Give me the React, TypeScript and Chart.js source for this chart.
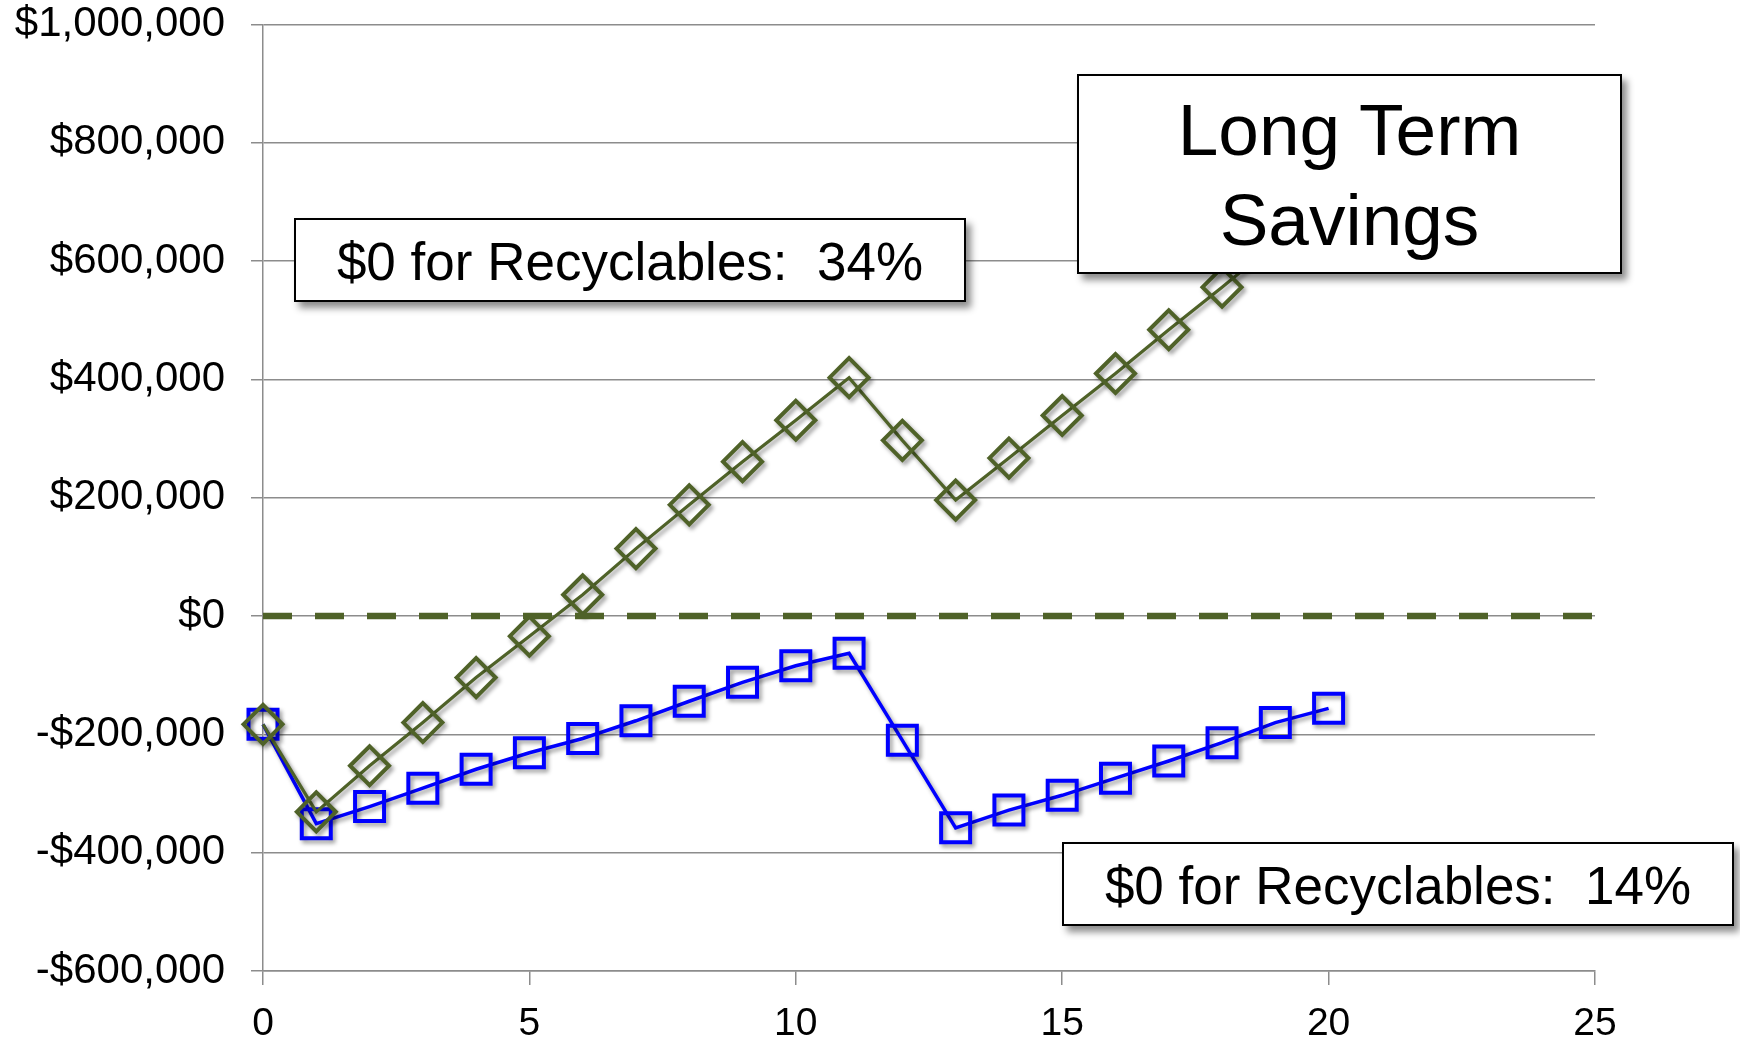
import React, { useEffect, useRef } from 'react';
import { Chart, registerables } from 'chart.js';

Chart.register(...registerables);

// ---- data ----
const years = [0, 1, 2, 3, 4, 5, 6, 7, 8, 9, 10, 11, 12, 13, 14, 15, 16, 17, 18, 19, 20];
const savings34 = [
  -183000, -331000, -253000, -180000, -104000, -34000, 36000, 114000, 188000, 261000,
  331000, 403000, 297000, 196000, 267000, 339000, 410000, 484000, 556000, 630000, 705000,
];
const savings14 = [
  -183000, -351000, -322000, -291000, -259000, -231000, -207000, -177000, -144000, -112000,
  -84000, -63000, -210000, -358000, -328000, -303000, -274000, -245000, -214000, -180000, -156000,
];
const breakEvenX = [0, 25.2];
const breakEvenY = [0, 0];
const xMin = 0;
const xMax = 25;
const xStep = 5;
const yMin = -600000;
const yMax = 1000000;
const yStep = 200000;
const label34 = '$0 for Recyclables:  34%';
const label14 = '$0 for Recyclables:  14%';
const titleLines = ['Long Term', 'Savings'];

const FONT = '"Liberation Sans", Arial, Helvetica, sans-serif';
const OLIVE = '#4F6228';
const BLUE = '#0000FF';
const GRID = '#8c8c8c';

const shadowPlugin = {
  id: 'seriesShadow',
  beforeDatasetDraw(chart: any, args: any) {
    const ds = chart.data.datasets[args.index];
    if (!ds.shadow) return;
    const ctx = chart.ctx;
    ctx.save();
    ctx.shadowColor = 'rgba(0,0,0,0.4)';
    ctx.shadowBlur = 4;
    ctx.shadowOffsetX = 2.5;
    ctx.shadowOffsetY = 3;
  },
  afterDatasetDraw(chart: any, args: any) {
    const ds = chart.data.datasets[args.index];
    if (!ds.shadow) return;
    chart.ctx.restore();
  },
};

function fmtMoney(v: number) {
  const s = '$' + Math.abs(v).toLocaleString('en-US');
  return v < 0 ? '-' + s : s;
}

const boxBase: React.CSSProperties = {
  position: 'absolute',
  boxSizing: 'border-box',
  background: '#fff',
  border: '2px solid #000',
  boxShadow: '5px 6px 7px rgba(0,0,0,0.45)',
  display: 'flex',
  alignItems: 'center',
  justifyContent: 'center',
  fontFamily: FONT,
  color: '#000',
  whiteSpace: 'pre',
};

export default function App() {
  const canvasRef = useRef<HTMLCanvasElement | null>(null);

  useEffect(() => {
    const canvas = canvasRef.current;
    if (!canvas) return;
    const chart = new Chart(canvas, {
      type: 'line',
      data: {
        datasets: [
          {
            label: 'break-even',
            data: breakEvenX.map((x, i) => ({ x, y: breakEvenY[i] })),
            borderColor: OLIVE,
            borderWidth: 6.5,
            borderDash: [29, 23],
            pointRadius: 0,
            clip: false,
            fill: false,
          } as any,
          {
            label: '34%',
            data: years.map((x, i) => ({ x, y: savings34[i] })),
            borderColor: OLIVE,
            borderWidth: 3.2,
            pointStyle: 'rectRot',
            pointRadius: 19.5,
            pointBorderWidth: 4,
            pointBorderColor: OLIVE,
            pointBackgroundColor: 'rgba(0,0,0,0)',
            fill: false,
            tension: 0,
            clip: false,
            shadow: true,
          } as any,
          {
            label: '14%',
            data: years.map((x, i) => ({ x, y: savings14[i] })),
            borderColor: BLUE,
            borderWidth: 3.5,
            pointStyle: 'rect',
            pointRadius: 20.5,
            pointBorderWidth: 4,
            pointBorderColor: BLUE,
            pointBackgroundColor: 'rgba(0,0,0,0)',
            fill: false,
            tension: 0,
            clip: false,
            shadow: true,
          } as any,
        ],
      },
      options: {
        responsive: false,
        maintainAspectRatio: false,
        animation: false,
        devicePixelRatio: 1,
        layout: { padding: { top: 24.5, right: 145, left: 0, bottom: 0 } },
        plugins: {
          legend: { display: false },
          tooltip: { enabled: false },
        },
        events: [],
        scales: {
          x: {
            type: 'linear',
            min: xMin,
            max: xMax,
            afterFit(scale: any) {
              scale.height = 74;
              scale.paddingLeft = 0;
              scale.paddingRight = 0;
            },
            ticks: {
              stepSize: xStep,
              padding: 16,
              color: '#000',
              font: { family: FONT, size: 39 },
            },
            grid: {
              drawOnChartArea: false,
              drawTicks: true,
              tickLength: 14,
              color: GRID,
              lineWidth: 1.5,
            },
            border: { display: true, color: GRID, width: 1.5 },
          },
          y: {
            type: 'linear',
            min: yMin,
            max: yMax,
            afterFit(scale: any) {
              scale.width = 263;
              scale.paddingTop = 0;
              scale.paddingBottom = 0;
            },
            ticks: {
              stepSize: yStep,
              padding: 26,
              color: '#000',
              font: { family: FONT, size: 42 },
              callback: (v: any) => fmtMoney(Number(v)),
            },
            grid: {
              color: GRID,
              lineWidth: 1.5,
              tickLength: 12,
              drawTicks: true,
            },
            border: { display: true, color: GRID, width: 1.5 },
          },
        },
      } as any,
      plugins: [shadowPlugin as any],
    });
    return () => chart.destroy();
  }, []);

  return (
    <div style={{ position: 'absolute', left: 0, top: 0, width: 1740, height: 1045, background: '#fff' }}>
      <canvas
        ref={canvasRef}
        width={1740}
        height={1045}
        style={{ position: 'absolute', left: 0, top: 0, width: 1740, height: 1045 }}
      />
      <div style={{ ...boxBase, left: 294, top: 218, width: 672, height: 84, fontSize: 53, lineHeight: 1, paddingTop: 3 }}>
        {label34}
      </div>
      <div style={{ ...boxBase, left: 1062, top: 842, width: 672, height: 84, fontSize: 53, lineHeight: 1, paddingTop: 2 }}>
        {label14}
      </div>
      <div
        style={{
          ...boxBase,
          left: 1077,
          top: 74,
          width: 545,
          height: 200,
          fontSize: 73,
          lineHeight: 1.23,
          flexDirection: 'column',
          paddingTop: 2,
        }}
      >
        {titleLines.map((t) => (
          <div key={t}>{t}</div>
        ))}
      </div>
    </div>
  );
}
